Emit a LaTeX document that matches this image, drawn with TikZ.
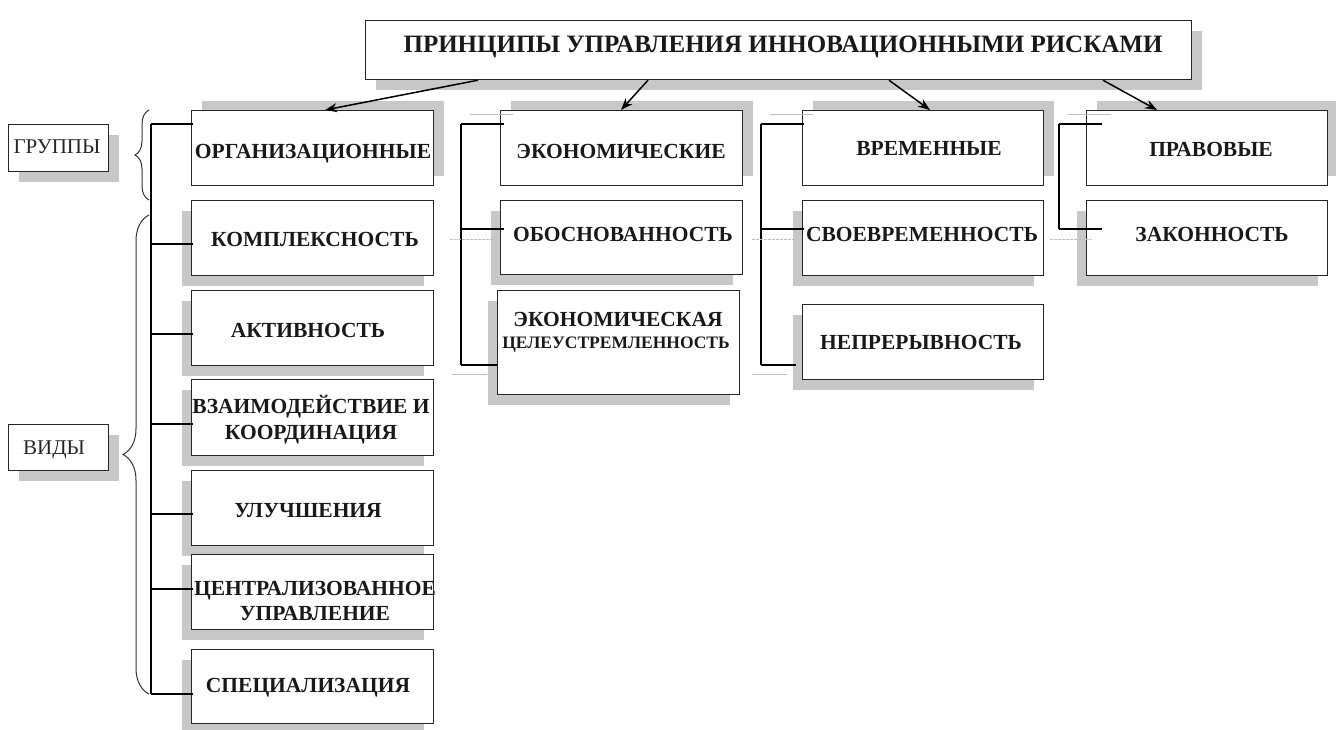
\documentclass[tikz,border=0pt]{standalone}
\usepackage{fontspec}
\setmainfont{Liberation Serif}
\usetikzlibrary{arrows.meta,calc,shadows,decorations.pathreplacing}
\definecolor{shgray}{RGB}{200,200,200}
\definecolor{faint}{RGB}{190,190,190}
\tikzset{
  box/.style={draw=black!85,line width=1.2pt,fill=white,inner sep=0pt,anchor=north west},
  shUR/.style={drop shadow={shadow xshift=10pt,shadow yshift=10pt,fill=shgray,opacity=1}},
  shLD/.style={drop shadow={shadow xshift=-10pt,shadow yshift=-10pt,fill=shgray,opacity=1}},
  shRD/.style={drop shadow={shadow xshift=10pt,shadow yshift=-10pt,fill=shgray,opacity=1}},
  lbl/.style={font=\fontsize{21.5}{24}\selectfont\bfseries,inner sep=0pt,text height=14pt,text depth=0pt,align=center,text=black!90},
  lbls/.style={font=\fontsize{21}{24}\selectfont,inner sep=0pt,text height=14pt,text depth=0pt,text=black!85},
  conn/.style={draw=black,line width=1.2pt},
  arr/.style={draw=black,line width=1.5pt,-{Stealth[length=12pt,width=9pt]}},
  fl/.style={draw=faint,line width=1pt},
  brc/.style={draw=black!80,line width=1pt,decorate},
}
\begin{document}
\begin{tikzpicture}[x=1pt,y=-1pt]
\useasboundingbox (0,0) rectangle (1336,730);
% title
\node[box,shRD,minimum width=826pt,minimum height=59pt] (title) at (365,20) {};
\node[inner sep=0pt,font=\fontsize{25}{28}\selectfont\bfseries,text height=16.5pt,text depth=0pt,text=black!90] (ttitle) at (783,44) {ПРИНЦИПЫ УПРАВЛЕНИЯ ИННОВАЦИОННЫМИ РИСКАМИ};
% left labels
\node[box,shRD,minimum width=100pt,minimum height=47pt] (grp) at (8,124) {};
\node[lbls] (tgrp) at (57,147) {ГРУППЫ};
\node[box,shRD,minimum width=100pt,minimum height=46pt] (vid) at (8,424) {};
\node[lbls] (tvid) at (54,447) {ВИДЫ};
% column 1
\node[box,shUR,minimum width=242pt,minimum height=75pt] (org) at (191,110) {};
\node[box,shLD,minimum width=242pt,minimum height=75pt] (kom) at (191,200) {};
\node[box,shLD,minimum width=242pt,minimum height=75pt] (akt) at (191,290) {};
\node[box,shLD,minimum width=242pt,minimum height=76pt] (vza) at (191,379) {};
\node[box,shLD,minimum width=242pt,minimum height=75pt] (ulu) at (191,470) {};
\node[box,shLD,minimum width=242pt,minimum height=75pt] (cen) at (191,554) {};
\node[box,shLD,minimum width=242pt,minimum height=74pt] (spe) at (191,649) {};
\node[lbl] (torg) at (313,152) {ОРГАНИЗАЦИОННЫЕ};
\node[lbl] (tkom) at (315,240) {КОМПЛЕКСНОСТЬ};
\node[lbl] (takt) at (308,330) {АКТИВНОСТЬ};
\node[lbl] (tvza1) at (311,406) {ВЗАИМОДЕЙСТВИЕ И};
\node[lbl] (tvza2) at (311,432) {КООРДИНАЦИЯ};
\node[lbl] (tulu) at (308,510) {УЛУЧШЕНИЯ};
\node[lbl] (tcen1) at (315,588) {ЦЕНТРАЛИЗОВАННОЕ};
\node[lbl] (tcen2) at (315,613) {УПРАВЛЕНИЕ};
\node[lbl] (tspe) at (308,685) {СПЕЦИАЛИЗАЦИЯ};
% column 2
\node[box,shUR,minimum width=242pt,minimum height=75pt] (eco) at (500,110) {};
\node[box,shLD,minimum width=242pt,minimum height=74pt] (obo) at (500,200) {};
\node[box,shLD,minimum width=242pt,minimum height=104pt] (ecc) at (497,290) {};
\node[lbl] (teco) at (621,152) {ЭКОНОМИЧЕСКИЕ};
\node[lbl] (tobo) at (623,235) {ОБОСНОВАННОСТЬ};
\node[lbl] (tecc1) at (618,319) {ЭКОНОМИЧЕСКАЯ};
\node[lbl,font=\fontsize{17.5}{20}\selectfont\bfseries,text height=11.5pt] (tecc2) at (616,343) {ЦЕЛЕУСТРЕМЛЕННОСТЬ};
% column 3
\node[box,shUR,minimum width=241pt,minimum height=75pt] (vre) at (802,110) {};
\node[box,shLD,minimum width=241pt,minimum height=75pt] (svo) at (802,200) {};
\node[box,shLD,minimum width=241pt,minimum height=75pt] (nep) at (802,304) {};
\node[lbl] (tvre) at (929,149) {ВРЕМЕННЫЕ};
\node[lbl] (tsvo) at (922,235) {СВОЕВРЕМЕННОСТЬ};
\node[lbl] (tnep) at (921,342) {НЕПРЕРЫВНОСТЬ};
% column 4
\node[box,shUR,minimum width=241pt,minimum height=75pt] (pra) at (1086,110) {};
\node[box,shLD,minimum width=241pt,minimum height=75pt] (zak) at (1086,200) {};
\node[lbl] (tpra) at (1211,150) {ПРАВОВЫЕ};
\node[lbl] (tzak) at (1212,235) {ЗАКОННОСТЬ};
% arrows from title
\draw[arr] ($(title.south west)+(113,0)$) -- ($(org.north west)+(134,0)$);
\draw[arr] ($(title.south west)+(283,0)$) -- ($(eco.north west)+(121,0)$);
\draw[arr] ($(title.south west)+(524,0)$) -- ($(vre.north west)+(128,0)$);
\draw[arr] ($(title.south west)+(738,0)$) -- ($(pra.north west)+(71,0)$);
% braces
\draw[brc,decoration={brace,amplitude=14pt}] (149,200) -- (149,110);
\draw[brc,decoration={brace,amplitude=26pt}] (149,694) -- (149,215);
% column 1 trunk
\coordinate (a1) at (151,124);
\coordinate (a7) at (151,694);
\draw[conn] (a1) -- (a7);
\foreach \n/\yy in {org/124,kom/244,akt/334,vza/424,ulu/514,cen/589,spe/694}{
  \draw[conn] (151,\yy) -- ([xshift=2pt]\n.west |- 0,\yy);
}
% column 2 trunk
\coordinate (b1) at (461,124);
\coordinate (b3) at (461,365);
\draw[conn] (b1) -- (b3);
\draw[conn] (b1) -- ([xshift=4pt]eco.west |- b1);
\draw[conn] (461,229) -- ([xshift=4pt]obo.west |- 0,229);
\draw[conn] (b3) -- (ecc.west |- b3);
% column 3 trunk
\coordinate (c1) at (761,124);
\coordinate (c3) at (761,365);
\draw[conn] (c1) -- (c3);
\draw[conn] (c1) -- ([xshift=2pt]vre.west |- c1);
\draw[conn] (761,229) -- ([xshift=2pt]svo.west |- 0,229);
\draw[conn] (c3) -- ([xshift=-6pt]nep.west |- c3);
% column 4 trunk
\coordinate (d1) at (1059,124);
\coordinate (d2) at (1059,229);
\draw[conn] (d1) -- (d2);
\draw[conn] (d1) -- ([xshift=16pt]pra.west |- d1);
\draw[conn] (d2) -- ([xshift=16pt]zak.west |- d2);
% faint lines
\draw[fl] (470,115) -- (513,115);
\draw[fl,dashed,dash pattern=on 3pt off 1pt] (450,240) -- (493,240);
\draw[fl] (452,374) -- (487,374);
\draw[fl] (770,115) -- (813,115);
\draw[fl,dashed,dash pattern=on 3pt off 1pt] (752,240) -- (795,240);
\draw[fl] (752,374) -- (787,374);
\draw[fl] (1068,115) -- (1111,115);
\draw[fl,dashed,dash pattern=on 3pt off 1pt] (1050,240) -- (1092,240);
\end{tikzpicture}
\end{document}
